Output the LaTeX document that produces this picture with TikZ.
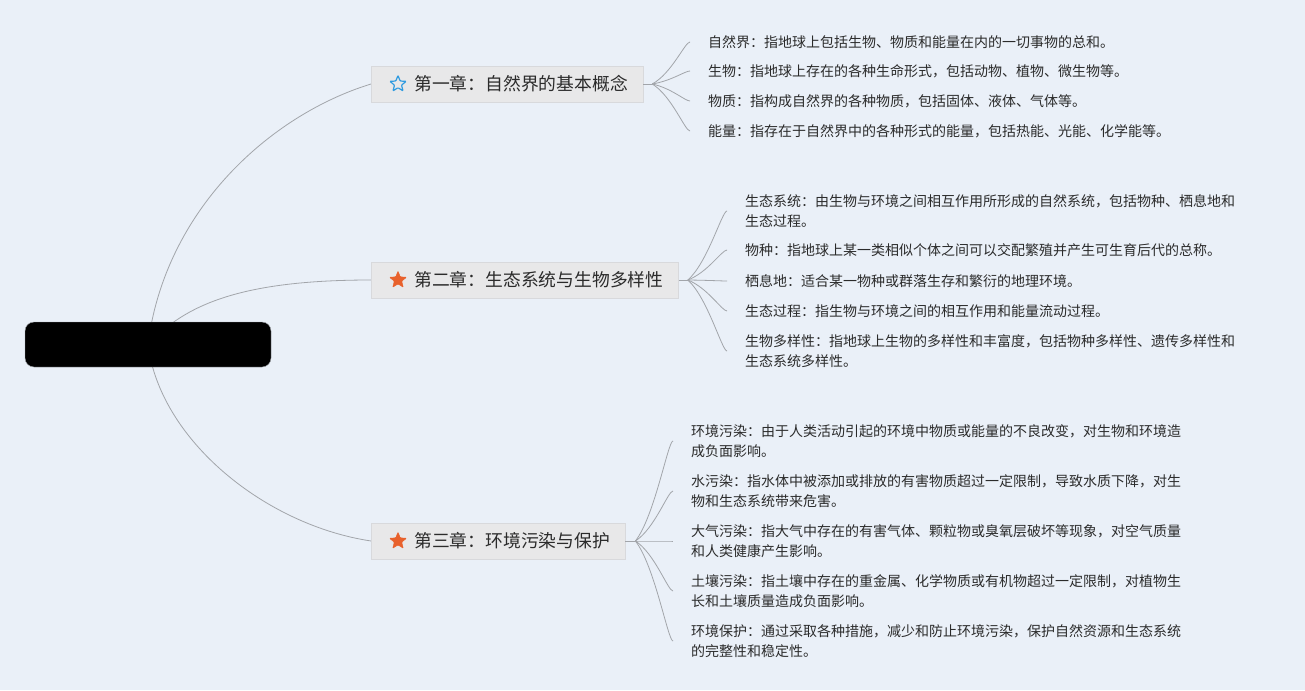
\documentclass[tikz,border=0pt]{standalone}
\usepackage{fontspec}
\setmainfont{Noto Sans CJK SC}
\usetikzlibrary{positioning,calc,shapes.geometric}
\definecolor{MapBg}{HTML}{EAF0F8}
\definecolor{MapLine}{HTML}{A2A5AA}
\definecolor{MapText}{HTML}{2B2B2B}
\definecolor{MapTopic}{HTML}{E8E8E9}
\definecolor{MapTopicEdge}{HTML}{D8D9DC}
\definecolor{MapBlue}{HTML}{2F9BE0}
\definecolor{MapOrange}{HTML}{E8612C}
\pgfdeclarelayer{bg}
\pgfsetlayers{bg,main}

\begin{document}
\begin{tikzpicture}[x=1pt,y=-1pt,
 root/.style={fill=black,draw=MapLine,rounded corners=9pt,minimum width=246pt,minimum height=45pt,inner sep=0pt},
 topic/.style={fill=MapTopic,draw=MapTopicEdge,line width=0.6pt,minimum height=36pt,inner xsep=15pt,anchor=west,font=\fontsize{17.8}{20}\selectfont,text=MapText},
 leaf/.style={anchor=west,align=left,inner sep=0pt,outer xsep=18pt,outer ysep=0pt,font=\fontsize{14}{20}\selectfont,text=MapText},
 link/.style={draw=MapLine,line width=0.8pt},
 starmark/.style={star,star points=5,star point ratio=2.3,minimum size=18pt,inner sep=0pt,rounded corners=0.8pt}]
\useasboundingbox (0,0) rectangle (1305,690);

% root and chapters
\node[root] (root) at (148,344.5) {};
\node[topic] (c1) at (371,84) {\hspace*{28pt}第一章：自然界的基本概念};
\node[topic] (c2) at (371,280) {\hspace*{28pt}第二章：生态系统与生物多样性};
\node[topic] (c3) at (371,541) {\hspace*{28pt}第三章：环境污染与保护};
\node[starmark,draw=MapBlue,line width=1.2pt,minimum size=17pt] (s1) at ([xshift=27pt]c1.west) {};
\node[starmark,fill=MapOrange,draw=MapOrange] (s2) at ([xshift=27pt]c2.west) {};
\node[starmark,fill=MapOrange,draw=MapOrange] (s3) at ([xshift=27pt]c3.west) {};

% chapter 1
\node[leaf] (a1) at (690,42) {自然界：指地球上包括生物、物质和能量在内的一切事物的总和。};
\node[leaf] (a2) at (690,71) {生物：指地球上存在的各种生命形式，包括动物、植物、微生物等。};
\node[leaf] (a3) at (690,101) {物质：指构成自然界的各种物质，包括固体、液体、气体等。};
\node[leaf] (a4) at (690,131) {能量：指存在于自然界中的各种形式的能量，包括热能、光能、化学能等。};

% chapter 2
\node[leaf] (b1) at (727,211) {生态系统：由生物与环境之间相互作用所形成的自然系统，包括物种、栖息地和\\生态过程。};
\node[leaf] (b2) at (727,250) {物种：指地球上某一类相似个体之间可以交配繁殖并产生可生育后代的总称。};
\node[leaf] (b3) at (727,281) {栖息地：适合某一物种或群落生存和繁衍的地理环境。};
\node[leaf] (b4) at (727,311) {生态过程：指生物与环境之间的相互作用和能量流动过程。};
\node[leaf] (b5) at (727,351) {生物多样性：指地球上生物的多样性和丰富度，包括物种多样性、遗传多样性和\\生态系统多样性。};

% chapter 3
\node[leaf] (d1) at (673,441) {环境污染：由于人类活动引起的环境中物质或能量的不良改变，对生物和环境造\\成负面影响。};
\node[leaf] (d2) at (673,491) {水污染：指水体中被添加或排放的有害物质超过一定限制，导致水质下降，对生\\物和生态系统带来危害。};
\node[leaf] (d3) at (673,541) {大气污染：指大气中存在的有害气体、颗粒物或臭氧层破坏等现象，对空气质量\\和人类健康产生影响。};
\node[leaf] (d4) at (673,591) {土壤污染：指土壤中存在的重金属、化学物质或有机物超过一定限制，对植物生\\长和土壤质量造成负面影响。};
\node[leaf] (d5) at (673,641) {环境保护：通过采取各种措施，减少和防止环境污染，保护自然资源和生态系统\\的完整性和稳定性。};

% connectors
\begin{pgfonlayer}{bg}
\fill[MapBg] (0,0) rectangle (1305,690);
\draw[link] (root.center) .. controls (165,210) and (270,115) .. (c1.west);
\draw[link] (root.center) .. controls (185,305) and (240,280) .. (c2.west);
\draw[link] (root.center) .. controls (160,440) and (265,525) .. (c3.west);
\end{pgfonlayer}

\coordinate (j1) at ($(c1.east)+(9,0)$);
\coordinate (j2) at ($(c2.east)+(9,0)$);
\coordinate (j3) at ($(c3.east)+(10,0)$);
\draw[link] (c1.east) -- (j1);
\draw[link] (c2.east) -- (j2);
\draw[link] (c3.east) -- (j3);
\foreach \n in {a1,a2,a3,a4}
  \draw[link] (j1) .. controls ($(j1)!0.25!(\n.west)+(10,0)$) and ($(\n.west)+(-5,0)$) .. (\n.west);
\foreach \n in {b1,b2,b3,b4,b5}
  \draw[link] (j2) .. controls ($(j2)!0.25!(\n.west)+(10,0)$) and ($(\n.west)+(-5,0)$) .. (\n.west);
\foreach \n in {d1,d2,d3,d4,d5}
  \draw[link] (j3) .. controls ($(j3)!0.25!(\n.west)+(10,0)$) and ($(\n.west)+(-5,0)$) .. (\n.west);
\end{tikzpicture}
\end{document}
